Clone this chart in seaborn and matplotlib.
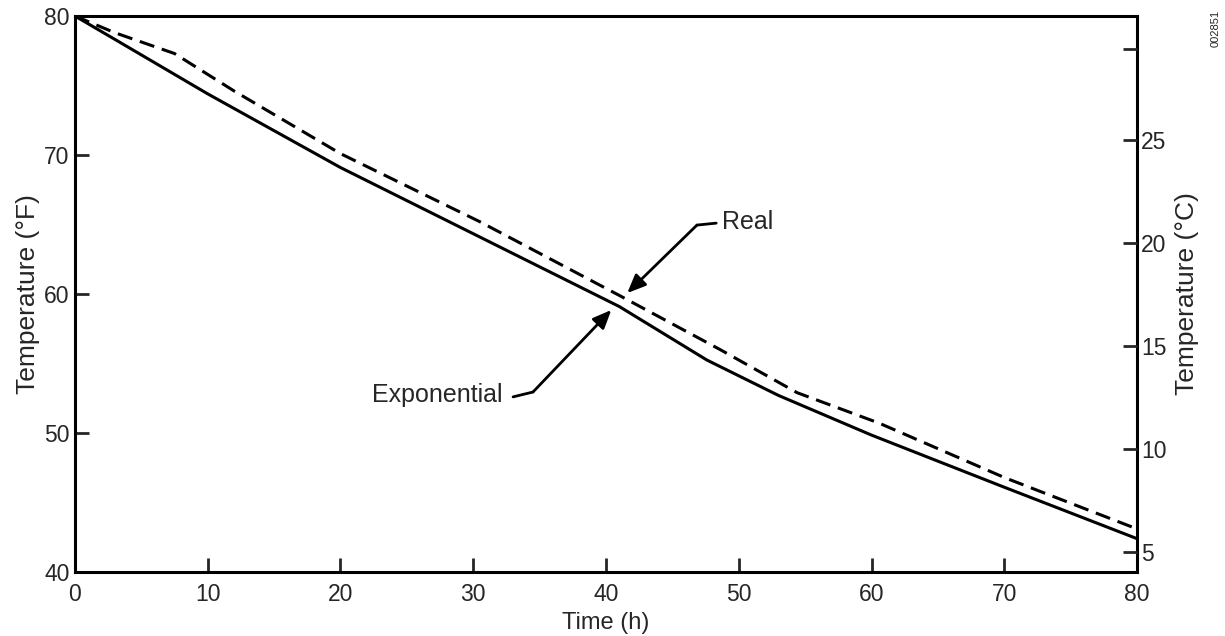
import matplotlib
matplotlib.use("Agg")
import matplotlib.pyplot as plt
import seaborn as sns
import pandas as pd

# Cooling curves: temperature (°F) against time (h)
exp_time = [0, 3.4, 10, 20, 30.5, 41, 47.6, 53, 60, 70, 80]
exp_temp = [80, 78.1, 74.4, 69.1, 64.1, 59.1, 55.25, 52.7, 49.85, 46.1, 42.4]

real_time = [0, 3, 7.5, 12, 20, 30.5, 41, 48.6, 54.4, 60.6, 70, 80]
real_temp = [80, 78.8, 77.3, 74.6, 70.1, 65.2, 59.9, 56.0, 52.9, 50.7, 46.8, 43.1]

x_ticks = [0, 10, 20, 30, 40, 50, 60, 70, 80]
f_ticks = [40, 50, 60, 70, 80]
c_ticks = [5, 10, 15, 20, 25, 29.4]
c_labels = ["5", "10", "15", "20", "25", ""]

exp_df = pd.DataFrame({"time": exp_time, "temp": exp_temp})
real_df = pd.DataFrame({"time": real_time, "temp": real_temp})

sns.set_style("ticks")
plt.rcParams["font.family"] = ["Liberation Sans", "DejaVu Sans"]
plt.rcParams["font.size"] = 16

TICK_FS = 16.5
XLAB_FS = 17
YLAB_FS = 19
NOTE_FS = 18

fig = plt.figure(figsize=(12.25, 6.36), dpi=100)
ax = fig.add_axes([0.0612, 0.1006, 0.8670, 0.8742])

lw = 2.2
sns.lineplot(data=exp_df, x="time", y="temp", ax=ax, color="black", lw=lw,
             solid_capstyle="butt")
sns.lineplot(data=real_df, x="time", y="temp", ax=ax, color="black", lw=lw,
             dashes=False, linestyle=(0, (5, 2.6)))

ax.set_xlim(0, 80)
ax.set_ylim(40, 80)
ax.set_xticks(x_ticks)
ax.set_yticks(f_ticks)
ax.set_xlabel("Time (h)", fontsize=XLAB_FS, labelpad=4)
ax.set_ylabel("Temperature (°F)", fontsize=YLAB_FS, labelpad=3)

for s in ax.spines.values():
    s.set_linewidth(2.2)
    s.set_color("black")
    s.set_visible(True)

ax.tick_params(axis="x", direction="in", length=10, width=2.0, pad=8,
               labelsize=TICK_FS, top=False)
ax.tick_params(axis="y", direction="in", length=10, width=2.0, pad=4,
               labelsize=TICK_FS, right=False)

# Celsius scale on the right
ax2 = ax.twinx()
ax2.set_ylim(4.03, 31.02)
ax2.set_yticks(c_ticks)
ax2.set_yticklabels(c_labels)
ax2.tick_params(axis="y", direction="in", length=10, width=2.0, pad=3,
                labelsize=TICK_FS)
ax2.set_ylabel("Temperature (°C)", fontsize=YLAB_FS, labelpad=6)
for s in ax2.spines.values():
    s.set_visible(False)

# Curve labels with elbow leaders
arrow_kw = dict(arrowstyle="-|>,head_length=0.7,head_width=0.3", color="black",
                lw=2.0, shrinkA=0, shrinkB=0)
ax.annotate("", xy=(41.6, 60.07), xytext=(46.85, 64.96), arrowprops=arrow_kw)
ax.plot([46.85, 48.3], [64.96, 65.1], color="black", lw=2.0)
ax.text(48.7, 65.15, "Real", ha="left", va="center", fontsize=NOTE_FS)

ax.annotate("", xy=(40.4, 58.85), xytext=(34.5, 52.95), arrowprops=arrow_kw)
ax.plot([33.0, 34.5], [52.6, 52.95], color="black", lw=2.0)
ax.text(32.2, 52.75, "Exponential", ha="right", va="center", fontsize=NOTE_FS)

fig.text(0.9925, 0.955, "002851", rotation=90, fontsize=8, ha="center",
         va="center")

fig.savefig("out.png", dpi=100)
